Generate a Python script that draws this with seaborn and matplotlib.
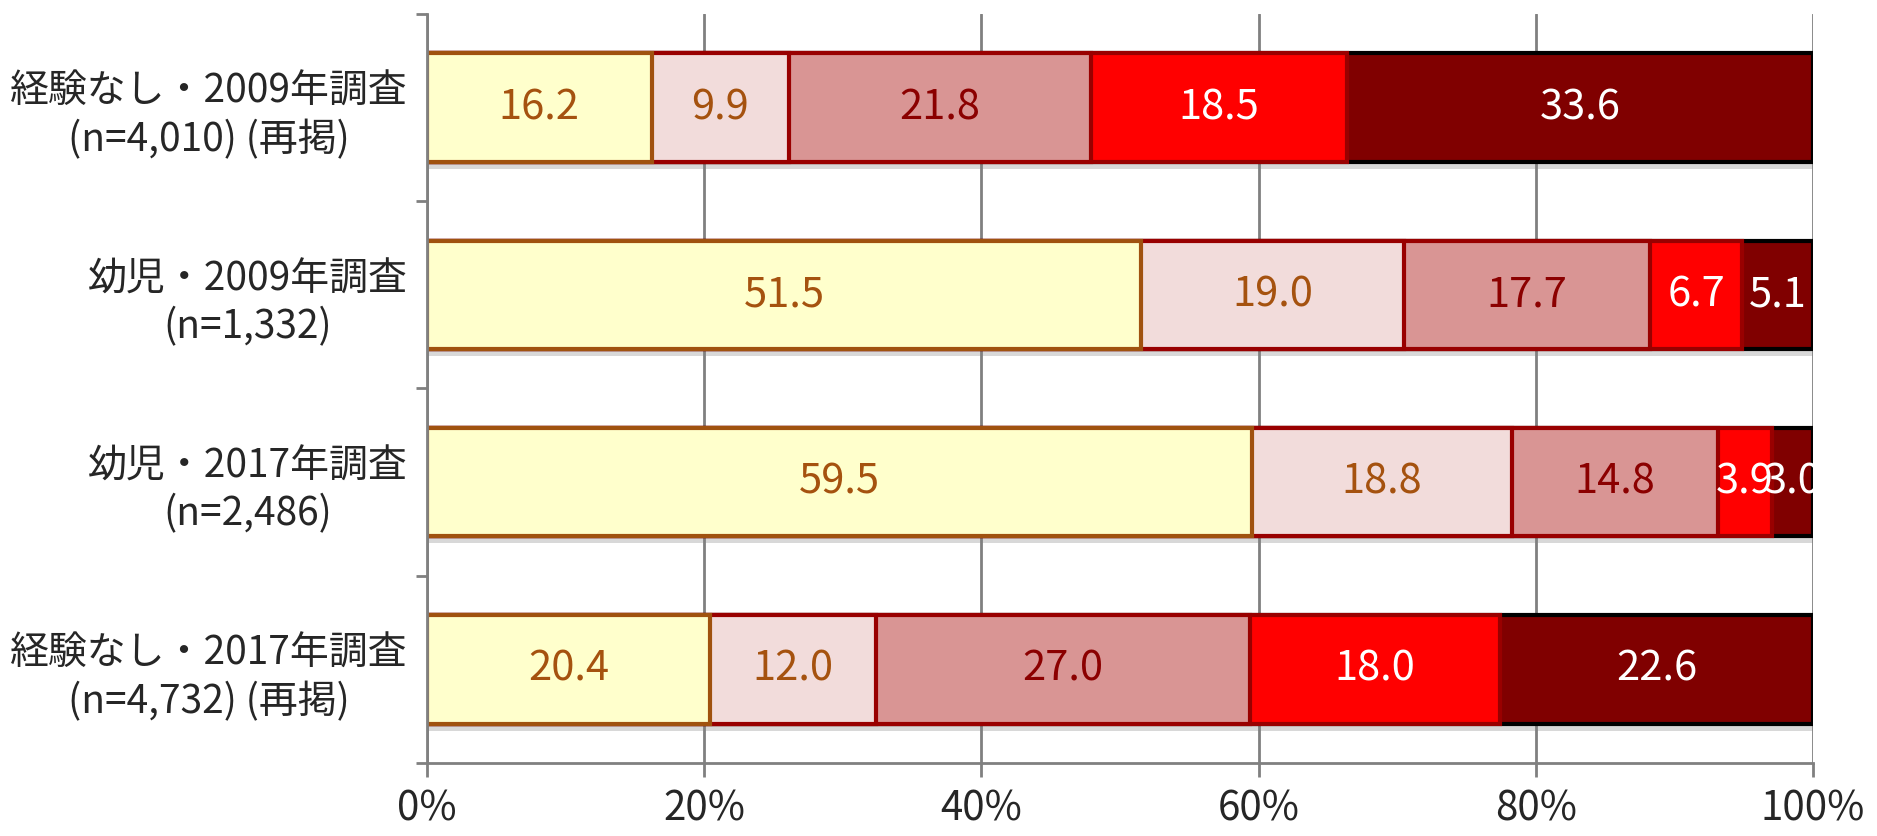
import numpy as np
import pandas as pd
import matplotlib
matplotlib.use("Agg")
import matplotlib.pyplot as plt
import matplotlib.patheffects as pe
import seaborn as sns

categories = ["経験なし・2009年調査\n(n=4,010) (再掲)",
              "幼児・2009年調査\n(n=1,332)",
              "幼児・2017年調査\n(n=2,486)",
              "経験なし・2017年調査\n(n=4,732) (再掲)"]
seg1 = [16.2, 51.5, 59.5, 20.4]
seg2 = [9.9, 19.0, 18.8, 12.0]
seg3 = [21.8, 17.7, 14.8, 27.0]
seg4 = [18.5, 6.7, 3.9, 18.0]
seg5 = [33.6, 5.1, 3.0, 22.6]
x_ticks = [0, 20, 40, 60, 80, 100]
x_labels = ["0%", "20%", "40%", "60%", "80%", "100%"]

fills = ["#FFFFCC", "#F2DCDB", "#D99594", "#FF0000", "#800000"]
edges = ["#A0520F", "#990000", "#990000", "#990000", "#000000"]
text_colors = ["#A5520F", "#A5520F", "#8B0000", "white", "white"]

sns.set_style("white")
plt.rcParams['font.family'] = ['Noto Sans CJK JP', 'DejaVu Sans']

segs = [seg1, seg2, seg3, seg4, seg5]
cum = np.cumsum(np.array(segs), axis=0)  # shape 5 x 4

fig = plt.figure(figsize=(18.77, 8.36), dpi=100)
ax = fig.add_axes([0.2275, 0.0873, 0.7385, 0.896])

# stacked bars: draw cumulative totals from longest to shortest
for i in range(4, -1, -1):
    df = pd.DataFrame({"cat": categories, "val": cum[i]})
    n_before = len(ax.patches)
    sns.barplot(data=df, x="val", y="cat", orient="h", color=fills[i],
                saturation=1, width=0.58, edgecolor=edges[i], linewidth=3, ax=ax)
    if i == 4:
        for p in ax.patches[n_before:]:
            p.set_path_effects([pe.SimplePatchShadow(offset=(0, -5), shadow_rgbFace="gray", alpha=0.3),
                                pe.Normal()])

# value labels
for i in range(5):
    for j in range(4):
        left = cum[i][j] - segs[i][j]
        ax.text(left + segs[i][j] / 2, j, f"{segs[i][j]:.1f}", ha="center", va="center",
                fontsize=30, color=text_colors[i], zorder=5)

ax.set_xlim(0, 100)
ax.set_ylim(3.5, -0.5)
ax.set_xticks(x_ticks)
ax.set_xticklabels(x_labels, fontsize=29)
ax.set_yticks(range(4))
ax.set_yticklabels(categories, fontsize=28, multialignment="center", linespacing=1.25)
ax.set_yticks([-0.5, 0.5, 1.5, 2.5, 3.5], minor=True)
ax.tick_params(axis="y", which="major", length=0, pad=14)
ax.tick_params(axis="y", which="minor", length=8, width=2, color="#808080", left=True)
ax.tick_params(axis="x", length=10, width=2, color="#808080", bottom=True, pad=8)
ax.set_xlabel("")
ax.set_ylabel("")

ax.set_axisbelow(True)
ax.grid(axis="x", color="#808080", linewidth=2)
for s in ["top", "right"]:
    ax.spines[s].set_visible(False)
for s in ["left", "bottom"]:
    ax.spines[s].set_color("#808080")
    ax.spines[s].set_linewidth(2)

fig.savefig("out.png", dpi=100)
